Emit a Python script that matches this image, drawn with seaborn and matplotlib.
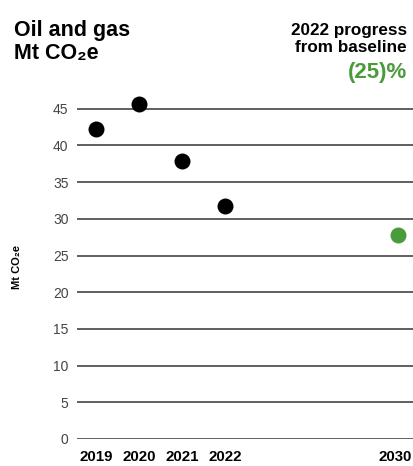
import matplotlib
matplotlib.use('Agg')
import matplotlib.pyplot as plt
import matplotlib.transforms as mtransforms
import seaborn as sns
import pandas as pd

# data
years = ['2019', '2020', '2021', '2022', '2030']
emissions = [42.3, 45.6, 37.9, 31.8, 27.8]
kind = ['actual', 'actual', 'actual', 'actual', 'target']
# blank slots keep the gap between 2022 and 2030
order = ['2019', '2020', '2021', '2022', ' ', '  ', '   ', '2030']

df = pd.DataFrame({'year': years, 'mt': emissions, 'kind': kind})

sns.set_style('white', {'text.color': 'black', 'axes.labelcolor': 'black',
                        'xtick.color': 'black', 'ytick.color': '#444444'})
plt.rcParams['font.family'] = ['Liberation Sans', 'DejaVu Sans']

fig = plt.figure(figsize=(4.13, 4.66), dpi=100)
ax = fig.add_axes([0.186, 0.058, 0.814, 0.74])

sns.stripplot(data=df, x='year', y='mt', hue='kind', order=order,
              palette={'actual': 'black', 'target': '#4a9c3a'},
              jitter=False, size=11.5, linewidth=0, legend=False, ax=ax, zorder=3)

ax.set_ylim(0, 47)
ax.set_xlim(-0.44, 7.35)
ax.set_yticks(range(0, 50, 5))
ax.yaxis.grid(True, color='#444444', linewidth=1.2)
ax.xaxis.grid(False)
for s in ax.spines.values():
    s.set_visible(False)
ax.tick_params(axis='y', length=0, pad=6, labelsize=10, labelcolor='#444444')
ax.tick_params(axis='x', length=0, pad=8, labelsize=10.8, labelcolor='black')
for lbl in ax.get_xticklabels():
    lbl.set_fontweight('bold')
# nudge the last year label so it stays inside the figure
last = ax.get_xticklabels()[-1]
last.set_transform(last.get_transform() +
                   mtransforms.ScaledTranslation(-3 / 100, 0, fig.dpi_scale_trans))
ax.set_xlabel('')
ax.set_ylabel('Mt CO\u2082e', fontsize=8, fontweight='bold', labelpad=22, color='black')

fig.text(0.034, 0.957, 'Oil and gas\nMt CO\u2082e', fontsize=15.5, fontweight='bold',
         va='top', ha='left', linespacing=1.1, color='black')
fig.text(0.985, 0.951, '2022 progress\nfrom baseline', fontsize=12.3, fontweight='bold',
         va='top', ha='right', linespacing=1.15, color='black')
fig.text(0.985, 0.868, '(25)%', fontsize=16, fontweight='bold', color='#4a9c3a',
         va='top', ha='right')

fig.savefig('out.png', dpi=100)
